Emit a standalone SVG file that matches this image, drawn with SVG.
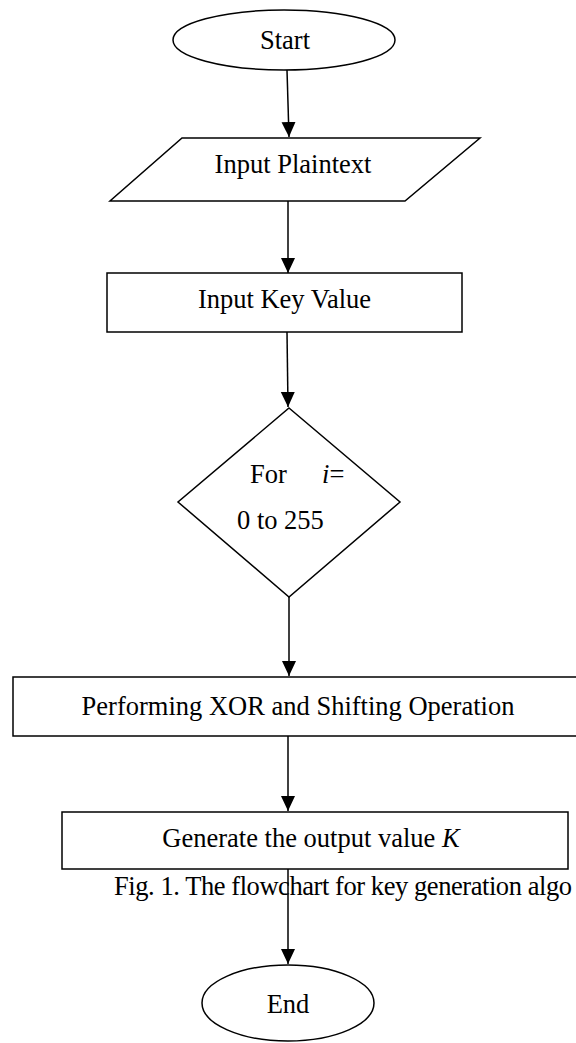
<svg xmlns="http://www.w3.org/2000/svg" width="576" height="1043" viewBox="0 0 576 1043">
<style>
.s{fill:#fff;stroke:#000;stroke-width:1.5}
.t{font-family:"Liberation Serif","Times New Roman",serif;font-size:26.5px;fill:#000}
.c{stroke:#000;stroke-width:1.5;fill:none}
</style>
<defs>
<marker id="ah" markerUnits="userSpaceOnUse" markerWidth="16" markerHeight="16" viewBox="0 0 16 16" refX="15" refY="8" orient="auto">
<path d="M0,1 L15,8 L0,15 Z" fill="#000"/>
</marker>
</defs>
<rect width="576" height="1043" fill="#fff"/>
<g id="connectors">
<line class="c" x1="287" y1="70" x2="289" y2="137" marker-end="url(#ah)"/>
<line class="c" x1="288" y1="201" x2="288" y2="273" marker-end="url(#ah)"/>
<line class="c" x1="287" y1="332" x2="288" y2="407" marker-end="url(#ah)"/>
<line class="c" x1="289" y1="597" x2="289" y2="676" marker-end="url(#ah)"/>
<line class="c" x1="288" y1="736" x2="288" y2="811" marker-end="url(#ah)"/>
<line class="c" x1="288" y1="869" x2="288" y2="964" marker-end="url(#ah)"/>
</g>
<g id="start">
<ellipse class="s" cx="284" cy="40" rx="111" ry="30"/>
<text class="t" x="285" y="49" text-anchor="middle">Start</text>
</g>
<g id="input-plaintext">
<polygon class="s" points="182,138 480,138 405,201 110,201"/>
<text class="t" x="293" y="173" text-anchor="middle">Input Plaintext</text>
</g>
<g id="input-key">
<rect class="s" x="107" y="273" width="355" height="59"/>
<text class="t" x="284.5" y="308" text-anchor="middle">Input Key Value</text>
</g>
<g id="loop">
<polygon class="s" points="289,408 400,502 289,597 178,502"/>
<text class="t" x="250" y="483">For</text>
<text class="t" x="322" y="483"><tspan font-style="italic">i</tspan>=</text>
<text class="t" x="237" y="529">0 to 255</text>
</g>
<g id="xor">
<rect class="s" x="13" y="677" width="575" height="59"/>
<text class="t" x="298" y="715" text-anchor="middle">Performing XOR and Shifting Operation</text>
</g>
<g id="generate">
<rect class="s" x="62" y="812" width="506" height="57"/>
<text class="t" x="311" y="847" text-anchor="middle">Generate the output value <tspan font-style="italic">K</tspan></text>
</g>
<text class="t" x="114" y="895" font-size="24.5" textLength="458" lengthAdjust="spacing">Fig. 1. The flowchart for key generation algo</text>
<g id="end">
<ellipse class="s" cx="288" cy="1003" rx="86" ry="38"/>
<text class="t" x="288" y="1013" text-anchor="middle" font-size="31">End</text>
</g>
</svg>
